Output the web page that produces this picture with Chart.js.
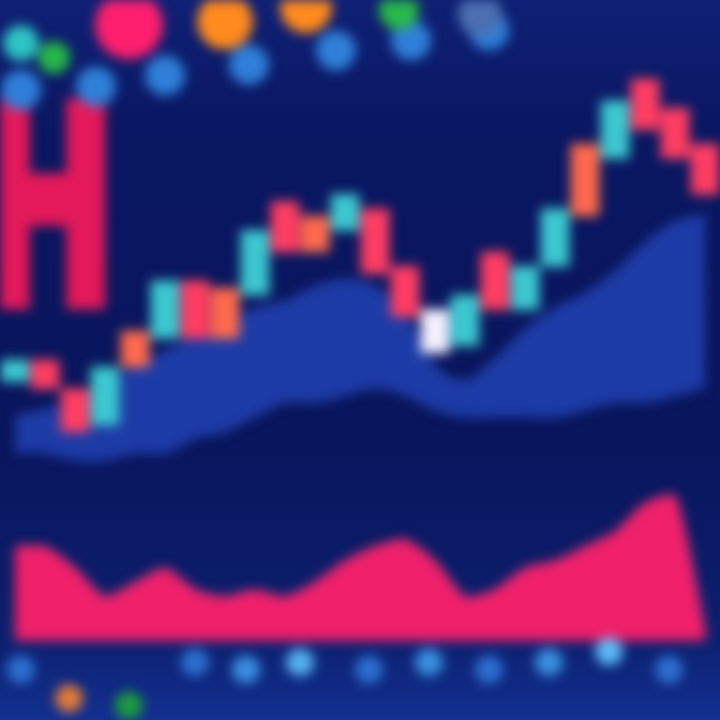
<!DOCTYPE html>
<html>
<head>
<meta charset="utf-8">
<script src="https://cdn.jsdelivr.net/npm/chart.js@4.4.0/dist/chart.umd.min.js"></script>
<style>
  html, body { margin: 0; padding: 0; background: #0a1660; }
  #wrap { width: 720px; height: 720px; overflow: hidden; position: relative;
          background: linear-gradient(#0f2075 0%, #0a1762 18%, #09155c 60%, #0c1f6e 88%, #123090 100%); }
  canvas { filter: blur(6px); }
</style>
</head>
<body>
<div id="wrap"><canvas id="chart" width="720" height="720"></canvas></div>
<script>
// candles, one per slot
var opens  = [47, 50, 46, 41, 49, 53, 61, 53, 59, 72, 65, 68, 71, 63, 57, 52, 65, 57, 63, 70, 78, 89, 85, 80];
var closes = [50, 46, 40, 49, 54, 61, 53, 60, 68, 65, 70, 73, 62, 56, 51, 59, 57, 63, 71, 80, 86, 82, 78, 73];
// blue band under the price
var bandTop    = [42, 43, 44, 46, 49, 51, 53, 55, 57, 58, 60, 61, 60, 56, 49, 47, 50, 54, 57, 59, 62, 66, 69, 70];
var bandBottom = [37, 37, 36, 36, 37, 37, 39, 40, 42, 44, 44, 45, 46, 45, 43, 42, 42, 42, 42, 43, 44, 44, 45, 46];
// pink volume area
var volume = [24, 24, 21, 17, 19, 21, 18, 17, 18, 17, 19, 22, 24, 25, 22, 17, 18, 21, 22, 24, 26, 30, 31, 12];
var volumeBase = 11;
// top badges
var badgeX = [0.7, 1.8, 4.3, 7.5, 10.2, 13.3, 16];
var badgeY = [94, 92, 96.5, 97, 99, 98.6, 98];
// light row under the badges
var rowX = [0.7, 3.2, 5.5, 8.3, 11.2, 13.7, 16.3];
var rowY = [87.5, 88, 89.5, 91, 93, 94.4, 95.8];
// bottom dots
var dotX = [0.7, 2.3, 4.3, 6.5, 8.2, 10, 12.3, 14.3, 16.3, 18.3, 20.3, 22.3];
var dotY = [7, 3, 2, 8, 7, 8, 7, 8, 7, 8, 9.5, 7];

var slots = opens.map(function(o, i) { return i + 0.5; });

var candleData = slots.map(function(x, i) { return { x: x, y: [opens[i], closes[i]] }; });
var candleColors = opens.map(function(o, i) {
    if (i == 14) return '#f4f0ff';
    if (closes[i] > opens[i]) return (i % 3 == 1) ? '#ff6a4d' : '#3cc8d0';
    return '#ff3d63';
});

function pts(xs, ys) { return xs.map(function(x, i) { return { x: x, y: ys[i] }; }); }

var hLogo = {
    id: 'hLogo',
    beforeDatasetsDraw: function(chart) {
        var c = chart.ctx;
        c.save();
        c.fillStyle = '#e3195a';
        c.font = 'bold 270px "DejaVu Sans"';
        c.textAlign = 'center';
        c.textBaseline = 'middle';
        c.translate(48, 232);
        c.scale(0.6, 1);
        c.fillText('H', 0, 0);
        c.lineWidth = 14;
        c.strokeStyle = '#e3195a';
        c.strokeText('H', 0, 0);
        c.restore();
    }
};

var ctx = document.getElementById('chart').getContext('2d');
var myChart = new Chart(ctx, {
    type: 'bar',
    data: {
        datasets: [
            {
                type: 'bar',
                label: 'Price',
                data: candleData,
                backgroundColor: candleColors,
                barThickness: 28,
                order: 0
            },
            {
                type: 'line',
                label: 'Band',
                data: pts(slots, bandTop),
                borderColor: '#2a4cc0',
                borderWidth: 2,
                backgroundColor: '#1d3ba6',
                fill: '+1',
                pointRadius: 0,
                tension: 0.4,
                order: 3
            },
            {
                type: 'line',
                label: 'Band low',
                data: pts(slots, bandBottom),
                borderColor: 'rgba(0,0,0,0)',
                pointRadius: 0,
                tension: 0.4,
                order: 3
            },
            {
                type: 'line',
                label: 'Volume',
                data: pts(slots, volume),
                borderColor: '#ff2f78',
                borderWidth: 2,
                backgroundColor: '#f0206a',
                fill: '+1',
                pointRadius: 0,
                tension: 0.2,
                order: 2
            },
            {
                type: 'line',
                label: 'Volume base',
                data: pts(slots, slots.map(function() { return volumeBase; })),
                borderColor: 'rgba(0,0,0,0)',
                pointRadius: 0,
                order: 2
            },
            {
                type: 'scatter',
                label: 'Badges',
                data: pts(badgeX, badgeY),
                backgroundColor: ['#2ec4c4', '#27b84a', '#ff1f6e', '#ff8a1e', '#ff8a1e', '#2ab84a', '#4b6fb0'],
                pointRadius: [18, 16, 34, 28, 26, 20, 22],
                borderWidth: 0,
                order: 1
            },
            {
                type: 'scatter',
                label: 'Row',
                data: pts(rowX, rowY),
                backgroundColor: '#2f7fd8',
                pointRadius: 20,
                borderWidth: 0,
                order: 4
            },
            {
                type: 'scatter',
                label: 'Dots',
                data: pts(dotX, dotY),
                backgroundColor: ['#2d6fd0', '#e07a3a', '#1e9a40', '#2d6fd0', '#3a8fe0', '#55b0f0',
                                  '#2d6fd0', '#3a8fe0', '#2d6fd0', '#3a8fe0', '#5ab8f5', '#2d6fd0'],
                pointRadius: 14,
                borderWidth: 0,
                order: 1
            }
        ]
    },
    options: {
        responsive: false,
        animation: false,
        layout: { padding: 0, autoPadding: false },
        plugins: { legend: { display: false }, tooltip: { enabled: false } },
        scales: {
            x: { type: 'linear', min: 0, max: 24, offset: false, display: false },
            y: { min: 0, max: 100, display: false }
        }
    },
    plugins: [hLogo]
});
</script>
</body>
</html>
